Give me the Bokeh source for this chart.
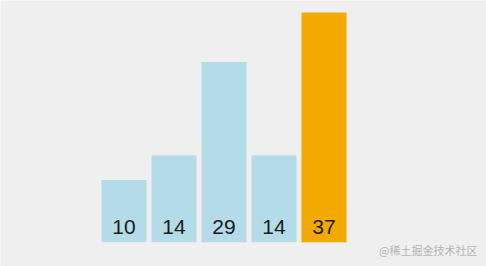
from bokeh.plotting import figure
from bokeh.models import ColumnDataSource, Range1d, Label
from bokeh.core.properties import value
from bokeh.embed import file_html
from bokeh.resources import INLINE

# Bar values, left to right; the last (largest) one is highlighted
values = [10, 14, 29, 14, 37]
labels = ["10", "14", "29", "14", "37"]
positions = [0, 1, 2, 3, 4]
colors = ["#b3dce8", "#b3dce8", "#b3dce8", "#b3dce8", "#f2a900"]

src = ColumnDataSource(dict(x=positions, top=values, label=labels, color=colors))

p = figure(width=486, height=266, output_backend="svg", toolbar_location=None,
           x_range=Range1d(-2.47, 7.25), y_range=Range1d(-3.91, 38.92),
           min_border=0, min_border_left=0, min_border_right=0,
           min_border_top=0, min_border_bottom=0)
p.axis.visible = False
p.grid.visible = False
p.outline_line_color = None
p.background_fill_color = "#efefef"
p.border_fill_color = "#efefef"

p.vbar(x="x", top="top", bottom=0, width=0.9, color="color", line_color=None, source=src)

# value labels sit just above the base of each bar
p.text(x="x", y=2.45, text="label", source=src, text_align="center",
       text_baseline="middle", text_font_size="21px",
       text_font=value("Liberation Sans"), text_color="#1a1a1a")

p.add_layout(Label(x=477, y=9, x_units="screen", y_units="screen",
                   text="@稀土掘金技术社区", text_align="right",
                   text_font="Noto Sans CJK SC", text_font_size="11px",
                   text_color="#b5b5b5"))

open("out.html", "w").write(file_html(p, INLINE))
